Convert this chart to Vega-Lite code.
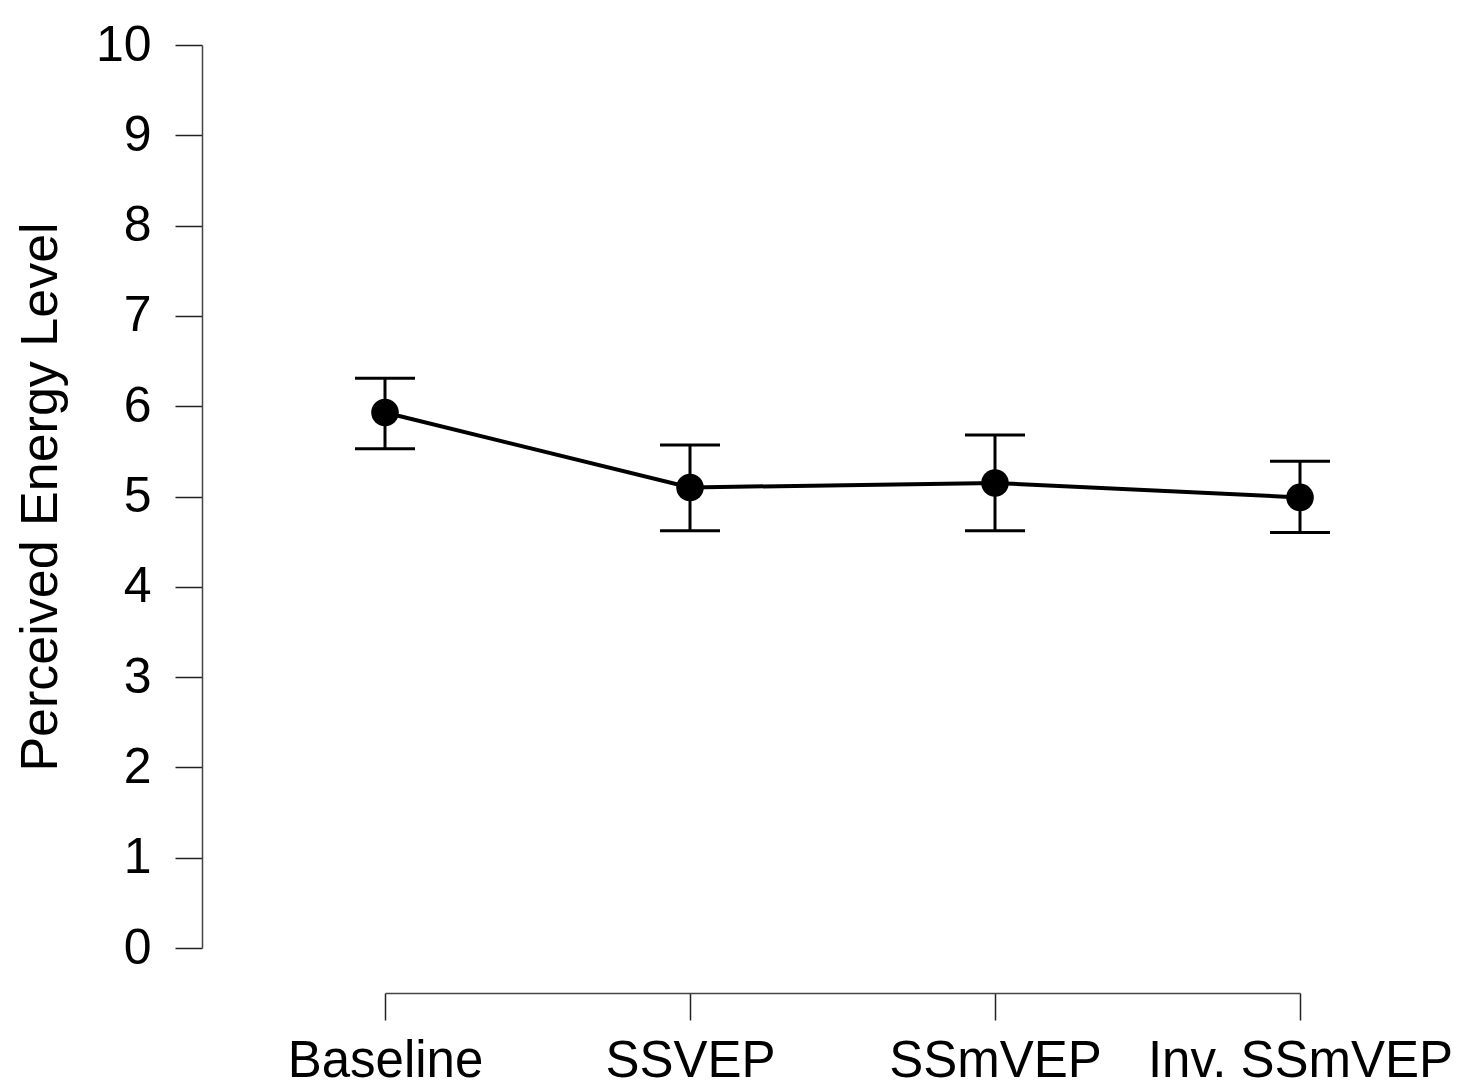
{
  "$schema": "https://vega.github.io/schema/vega-lite/v6.json",
  "autosize": "none",
  "padding": {"left": 385, "top": 45, "right": 184, "bottom": 142},
  "width": 915,
  "height": 903,
  "background": "white",
  "config": {
    "view": {"stroke": null},
    "font": "Liberation Sans",
    "axis": {"grid": false, "domainColor": "#444", "tickColor": "#222", "domainWidth": 1.5, "tickWidth": 1.5, "labelColor": "black", "titleColor": "black", "labelFontWeight": "normal", "titleFontWeight": "normal", "labelLimit": 0}
  },
  "data": {
    "values": [
      {"condition": "Baseline", "mean": 5.93, "lo": 5.53, "hi": 6.31},
      {"condition": "SSVEP", "mean": 5.10, "lo": 4.62, "hi": 5.57},
      {"condition": "SSmVEP", "mean": 5.15, "lo": 4.62, "hi": 5.68},
      {"condition": "Inv. SSmVEP", "mean": 4.99, "lo": 4.60, "hi": 5.39}
    ]
  },
  "encoding": {
    "x": {
      "field": "condition",
      "type": "nominal",
      "sort": null,
      "scale": {"type": "point", "padding": 0},
      "axis": {"title": null, "labelAngle": 0, "offset": 45, "tickSize": 27, "labelFontSize": 51, "labelPadding": 16}
    }
  },
  "layer": [
    {
      "mark": {"type": "rule", "color": "black", "strokeWidth": 3},
      "encoding": {
        "y": {"field": "lo", "type": "quantitative"},
        "y2": {"field": "hi"}
      }
    },
    {
      "mark": {"type": "tick", "color": "black", "opacity": 1, "size": 60, "thickness": 3},
      "encoding": {"y": {"field": "lo", "type": "quantitative"}}
    },
    {
      "mark": {"type": "tick", "color": "black", "opacity": 1, "size": 60, "thickness": 3},
      "encoding": {"y": {"field": "hi", "type": "quantitative"}}
    },
    {
      "mark": {"type": "line", "color": "black", "strokeWidth": 4},
      "encoding": {"y": {"field": "mean", "type": "quantitative"}}
    },
    {
      "mark": {"type": "point", "filled": true, "color": "black", "opacity": 1, "size": 760},
      "encoding": {
        "y": {
          "field": "mean",
          "type": "quantitative",
          "scale": {"domain": [0, 10], "nice": false, "zero": false},
          "axis": {"title": "Perceived Energy Level", "offset": 183, "tickSize": 27, "values": [0,1,2,3,4,5,6,7,8,9,10], "format": "d", "labelFontSize": 50, "labelPadding": 24, "titleFontSize": 52, "titlePadding": 28}
        }
      }
    }
  ]
}
